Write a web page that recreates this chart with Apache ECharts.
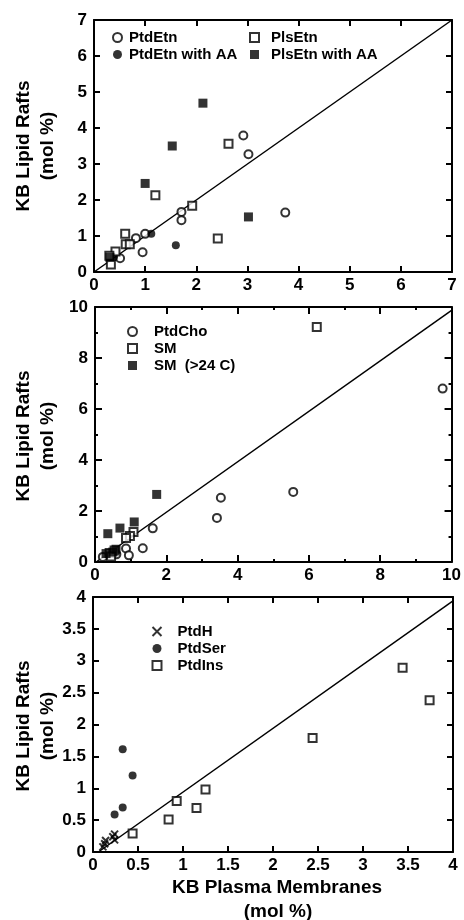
<!DOCTYPE html>
<html><head><meta charset="utf-8">
<script src="https://cdn.jsdelivr.net/npm/echarts@6/dist/echarts.min.js"></script>
<style>html,body{margin:0;padding:0;background:#fff}#c{width:464px;height:920px}</style>
</head><body><div id="c"></div>
<script>
// ---- Panel 1: PtdEtn / PlsEtn ----
const ptdEtn = [[2.92,3.79],[3.02,3.27],[3.74,1.65],[1.71,1.67],[1.71,1.44],[0.82,0.94],[1.0,1.06],[0.95,0.55],[0.51,0.38]];
const ptdEtnAA = [[1.60,0.74],[1.12,1.06],[0.39,0.41]];
const plsEtn = [[2.63,3.56],[1.20,2.13],[1.92,1.84],[2.42,0.93],[0.61,1.06],[0.62,0.77],[0.70,0.77],[0.42,0.57],[0.33,0.21],[0.30,0.45]];
const plsEtnAA = [[2.13,4.69],[1.53,3.50],[1.00,2.46],[3.02,1.53],[0.31,0.41]];
const line1 = [[0,0],[7,7]];
// ---- Panel 2: PtdCho / SM ----
const ptdCho = [[9.75,6.80],[5.56,2.75],[3.53,2.52],[3.42,1.73],[1.62,1.32],[1.34,0.54],[0.87,0.53],[0.95,0.26],[0.22,0.20],[0.60,0.30]];
const sm = [[6.22,9.22],[1.08,1.18],[0.98,1.02],[0.87,0.94],[0.41,0.35],[0.55,0.45],[0.45,0.22]];
const smLong = [[1.73,2.65],[1.10,1.57],[0.70,1.33],[0.36,1.11],[0.59,0.50],[0.50,0.39],[0.31,0.33]];
const line2 = [[0.03,0],[10,9.87]];
// ---- Panel 3: PtdH / PtdSer / PtdIns ----
const ptdH = [[0.13,0.13],[0.11,0.08],[0.24,0.28],[0.22,0.24],[0.24,0.19],[0.14,0.18]];
const ptdSer = [[0.33,1.61],[0.44,1.20],[0.33,0.70],[0.24,0.59]];
const ptdIns = [[3.44,2.89],[3.74,2.38],[2.44,1.79],[1.25,0.98],[0.93,0.80],[1.15,0.69],[0.84,0.51],[0.44,0.29]];
const line3 = [[0.06,0],[4,3.94]];

const yName = ['KB Lipid Rafts', '(mol %)'];
const xName = ['KB Plasma Membranes', '(mol %)'];

const FONT = 'Liberation Sans, Arial, sans-serif';
const chart = echarts.init(document.getElementById('c'), null, {renderer:'canvas'});

function axes(gi, max, interval, tickLen, minor){
  const mk = (pos, withLabel) => ({
    gridIndex: gi, type:'value', min:0, max:max, interval:interval, position:pos,
    axisLine:{show:true, onZero:false, lineStyle:{color:'#000', width:2}},
    axisTick:{show:true, inside:true, length:tickLen, lineStyle:{color:'#000', width:2}},
    minorTick: minor ? {show:true, splitNumber:2, length:3, lineStyle:{color:'#000', width:2}} : {show:false},
    splitLine:{show:false},
    axisLabel: withLabel ? {show:true, margin:(pos==='left'?7:5), color:'#000', fontFamily:FONT, fontWeight:'bold', fontSize:17, showMinLabel:true, showMaxLabel:true} : {show:false}
  });
  return {x:[mk('bottom',true), mk('top',false)], y:[mk('left',true), mk('right',false)]};
}
const a0 = axes(0, 7, 1, 6, false);
const a1 = axes(1, 10, 2, 7, true);
const a2 = axes(2, 4, 0.5, 6, false);

const openStyle = {color:'#fff', borderColor:'#000', borderWidth:2};
const fillStyle = {color:'#000', borderColor:'#000', borderWidth:0};
function sc(name, data, xi, yi, symbol, size, style){
  return {type:'scatter', name, data, xAxisIndex:xi, yAxisIndex:yi, symbol, symbolSize:size, itemStyle:style, z:3, silent:true};
}
function ln(data, xi, yi){
  return {type:'line', data, xAxisIndex:xi, yAxisIndex:yi, symbol:'none', lineStyle:{color:'#000', width:1.5}, z:2, silent:true};
}
const crossSym = 'path://M0,0L10,10M10,0L0,10';
const crossStyle = {color:'none', borderColor:'#000', borderWidth:2};

const legText = {color:'#000', fontFamily:FONT, fontWeight:'bold', fontSize:15, lineHeight:15};
function leg(data, left, top, pad){
  return {data, left, top, padding:0, orient:'vertical', itemWidth:9, itemHeight:9, itemGap:2, selectedMode:false,
          textStyle:Object.assign({padding:[0,0,0,pad]}, legText)};
}

function vText(x, y, t){
  return {type:'text', x, y, rotation:Math.PI/2, style:{text:t, fill:'#000', font:'bold 19px '+FONT, align:'center', verticalAlign:'middle'}};
}
function hText(x, y, t){
  return {type:'text', x, y, style:{text:t, fill:'#000', font:'bold 19px '+FONT, align:'center', verticalAlign:'middle'}};
}

chart.setOption({
  animation:false,
  grid:[
    {left:94, top:20, width:358, height:252},
    {left:95, top:307, width:360, height:255},
    {left:93, top:597, width:360, height:255}
  ],
  xAxis:[...a0.x, ...a1.x, ...a2.x],
  yAxis:[...a0.y, ...a1.y, ...a2.y],
  legend:[
    leg(['PtdEtn','PtdEtn with AA'], 112, 30, 2),
    leg(['PlsEtn','PlsEtn with AA'], 249, 30, 7),
    leg(['PtdCho','SM','SM  (>24 C)'], 127, 324, 12),
    leg(['PtdH','PtdSer','PtdIns'], 150, 624, 11)
  ],
  series:[
    ln(line1, 0, 0),
    sc('PtdEtn', ptdEtn, 0, 0, 'circle', 8, openStyle),
    sc('PtdEtn with AA', ptdEtnAA, 0, 0, 'circle', 8, fillStyle),
    sc('PlsEtn', plsEtn, 0, 0, 'rect', 8, openStyle),
    sc('PlsEtn with AA', plsEtnAA, 0, 0, 'rect', 9, fillStyle),
    ln(line2, 2, 2),
    sc('PtdCho', ptdCho, 2, 2, 'circle', 8, openStyle),
    sc('SM', sm, 2, 2, 'rect', 8, openStyle),
    sc('SM  (>24 C)', smLong, 2, 2, 'rect', 9, fillStyle),
    ln(line3, 4, 4),
    sc('PtdH', ptdH, 4, 4, crossSym, 7, crossStyle),
    sc('PtdSer', ptdSer, 4, 4, 'circle', 8, fillStyle),
    sc('PtdIns', ptdIns, 4, 4, 'rect', 8, openStyle)
  ],
  graphic:[
    vText(24, 146, yName[0]), vText(48, 146, yName[1]),
    vText(24, 436, yName[0]), vText(48, 436, yName[1]),
    vText(24, 726, yName[0]), vText(48, 726, yName[1]),
    hText(277, 888, xName[0]), hText(278, 912, xName[1])
  ]
});
</script>
</body></html>
